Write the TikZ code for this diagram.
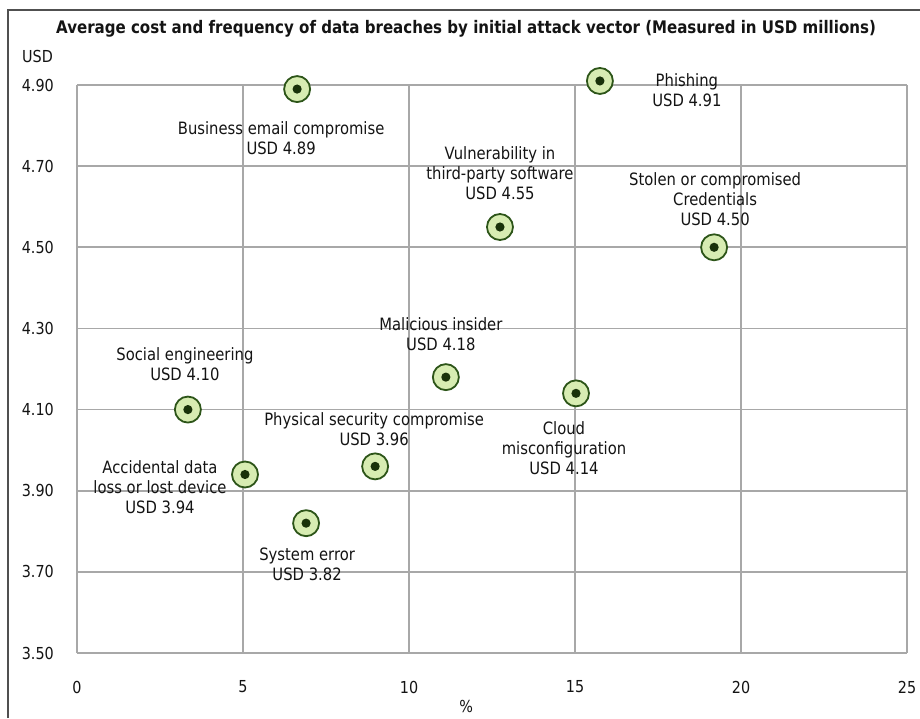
\documentclass[tikz,border=0pt]{standalone}
\usepackage{fontspec}
\setmainfont{DejaVu Sans}[FakeStretch=0.87]
\definecolor{gridgray}{RGB}{168,168,168}
\definecolor{framegray}{RGB}{80,80,80}
\definecolor{mkfill}{RGB}{215,236,178}
\definecolor{mkdark}{RGB}{45,85,25}
\definecolor{mkdot}{RGB}{25,50,10}
\definecolor{txt}{RGB}{20,20,20}
\begin{document}
\begin{tikzpicture}[x=1pt,y=1pt,
  gridl/.style={draw=gridgray, line width=1.6pt},
  framel/.style={draw=framegray, line width=1.4pt},
  mk/.style={circle, draw=mkdark, fill=mkfill, line width=1.8pt, minimum size=26pt, inner sep=0pt,
    path picture={\fill[mkdot] (path picture bounding box.center) circle (4.6pt);}},
  lbl/.style={align=center, font=\fontsize{17}{20}\selectfont, inner sep=0pt, text=txt},
  ticklbl/.style={font=\fontsize{16.5}{19}\selectfont, inner sep=0pt, text=txt}]
\useasboundingbox (0,0) rectangle (920,718);
\fill[white] (0,0) rectangle (920,718);
\draw[framel] (8,0) -- (8,708) -- (920,708);
\node[text=txt, inner sep=0pt, font=\fontsize{17.3}{20}\selectfont\bfseries] (title) at (466,689)
  {Average cost and frequency of data breaches by initial attack vector (Measured in USD millions)};
\node[ticklbl, anchor=west] (usd) at (22,662) {USD};
\begin{scope}[shift={(77pt,-1354.95pt)}, x=33.2pt, y=405.7pt]
  \foreach \gx in {0,5,10,15,20,25} {
    \draw[gridl] (\gx,3.5) -- (\gx,4.9);
    \node[ticklbl] (xt\gx) at ([yshift=-34pt]\gx,3.5) {\gx};
  }
  \foreach \gy/\lab [count=\i] in {3.5/3.50,3.7/3.70,3.9/3.90,4.1/4.10,4.3/4.30,4.5/4.50,4.7/4.70,4.9/4.90} {
    \draw[gridl] (0,\gy) -- (25,\gy);
    \node[ticklbl, anchor=east] (yt\i) at ([xshift=-23pt]0,\gy) {\lab};
  }
  \node[ticklbl] (xtitle) at ([yshift=-53pt]11.72,3.5) {\%};
  % markers
  \node[mk] (phish) at (15.75,4.91) {};
  \node[mk] (bec)   at (6.63,4.89) {};
  \node[mk] (vuln)  at (12.74,4.55) {};
  \node[mk] (cred)  at (19.19,4.50) {};
  \node[mk] (mal)   at (11.11,4.18) {};
  \node[mk] (cloud) at (15.03,4.14) {};
  \node[mk] (soc)   at (3.34,4.10) {};
  \node[mk] (phys)  at (8.98,3.96) {};
  \node[mk] (acc)   at (5.06,3.94) {};
  \node[mk] (sys)   at (6.90,3.82) {};
  % labels
  \node[lbl] (phishL) at ([shift={(87pt,-9pt)}]phish.center) {Phishing\\USD 4.91};
  \node[lbl] (becL)   at ([shift={(-16pt,-49pt)}]bec.center) {Business email compromise\\USD 4.89};
  \node[lbl] (vulnL)  at ([shift={(0pt,54pt)}]vuln.center) {Vulnerability in\\third-party software\\USD 4.55};
  \node[lbl] (credL)  at ([shift={(1pt,48pt)}]cred.center) {Stolen or compromised\\Credentials\\USD 4.50};
  \node[lbl] (malL)   at ([shift={(-5pt,43pt)}]mal.center) {Malicious insider\\USD 4.18};
  \node[lbl] (cloudL) at ([shift={(-12pt,-55pt)}]cloud.center) {Cloud\\misconfiguration\\USD 4.14};
  \node[lbl] (socL)   at ([shift={(-3pt,45pt)}]soc.center) {Social engineering\\USD 4.10};
  \node[lbl] (physL)  at ([shift={(-1pt,37pt)}]phys.center) {Physical security compromise\\USD 3.96};
  \node[lbl] (accL)   at ([shift={(-85pt,-13pt)}]acc.center) {Accidental data\\loss or lost device\\USD 3.94};
  \node[lbl] (sysL)   at ([shift={(1pt,-41pt)}]sys.center) {System error\\USD 3.82};
\end{scope}
\end{tikzpicture}
\end{document}
